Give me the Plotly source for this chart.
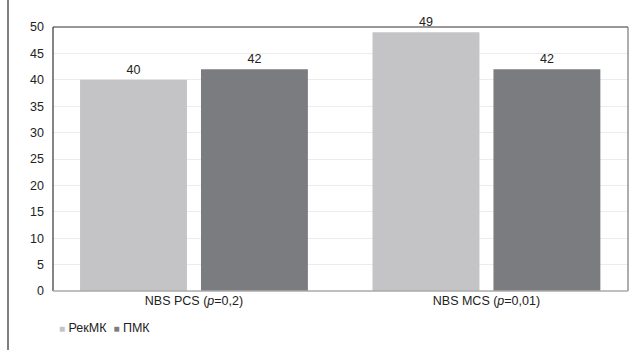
import plotly.graph_objects as go

categories = ["NBS PCS (<i>p</i>=0,2)", "NBS MCS (<i>p</i>=0,01)"]
series_names = ["РекМК", "ПМК"]
rekmk_values = [40, 49]
pmk_values = [42, 42]
y_ticks = [0, 5, 10, 15, 20, 25, 30, 35, 40, 45, 50]

colors = ["#c4c4c6", "#7b7c80"]
font = "Liberation Sans, Arial, sans-serif"
fs = 12.5

fig = go.Figure()
for name, vals, col in zip(series_names, [rekmk_values, pmk_values], colors):
    fig.add_trace(go.Bar(
        x=[0, 1], y=vals, name=name, marker=dict(color=col, line=dict(width=0)),
        text=[str(v) for v in vals], textposition="outside",
        textfont=dict(family=font, size=fs, color="#222"), cliponaxis=False,
        showlegend=False,
    ))

fig.update_layout(
    width=629, height=350, autosize=False,
    margin=dict(l=53, r=1, t=27, b=59),
    paper_bgcolor="white", plot_bgcolor="white",
    barmode="group", bargap=0.173, bargroupgap=0.116,
    font=dict(family=font, size=fs, color="#222"),
    xaxis=dict(
        range=[-0.482, 1.484], tickmode="array", tickvals=[0, 1], ticktext=categories,
        showgrid=False, zeroline=False, showline=False, ticks="",
        tickfont=dict(family=font, size=fs, color="#222"),
    ),
    yaxis=dict(
        range=[0, 50], tickmode="array", tickvals=y_ticks,
        showgrid=True, gridcolor="#ececec", gridwidth=1, zeroline=False,
        showline=False, ticks="", ticklabelstandoff=8,
        tickfont=dict(family=font, size=fs, color="#222"),
    ),
)

# plot frame
fig.add_shape(type="line", xref="paper", yref="paper", x0=0, x1=1, y0=1, y1=1,
              line=dict(color="#333", width=1.2))
fig.add_shape(type="line", xref="paper", yref="paper", x0=0, x1=0, y0=0, y1=1,
              line=dict(color="#333", width=1.2))
fig.add_shape(type="line", xref="paper", yref="paper", x0=1, x1=1, y0=0, y1=1,
              line=dict(color="#777", width=1.2))
fig.add_shape(type="line", xref="paper", yref="paper", x0=0, x1=1, y0=0, y1=0,
              line=dict(color="#aaa", width=1.5))
# outer figure frame left edge
fig.add_shape(type="line", xref="paper", yref="paper", x0=-45/575, x1=-45/575,
              y0=-59/264, y1=1 + 27/264, line=dict(color="#555", width=1.5))

legend_text = "  ".join(
    f'<span style="color:{c};font-size:10px">■</span> {n}' for n, c in zip(series_names, colors)
)
fig.add_annotation(xref="paper", yref="paper", x=4 / 575, y=-37 / 264, xanchor="left",
                   yanchor="middle", showarrow=False, text=legend_text,
                   font=dict(family=font, size=fs, color="#222"))

fig.write_html(
    "out.html",
    config={"displayModeBar": False, "responsive": False},
    default_width="629px", default_height="350px",
    post_script="document.body.style.margin='0';document.body.style.overflow='hidden';"
                "document.documentElement.style.overflow='hidden';",
)
